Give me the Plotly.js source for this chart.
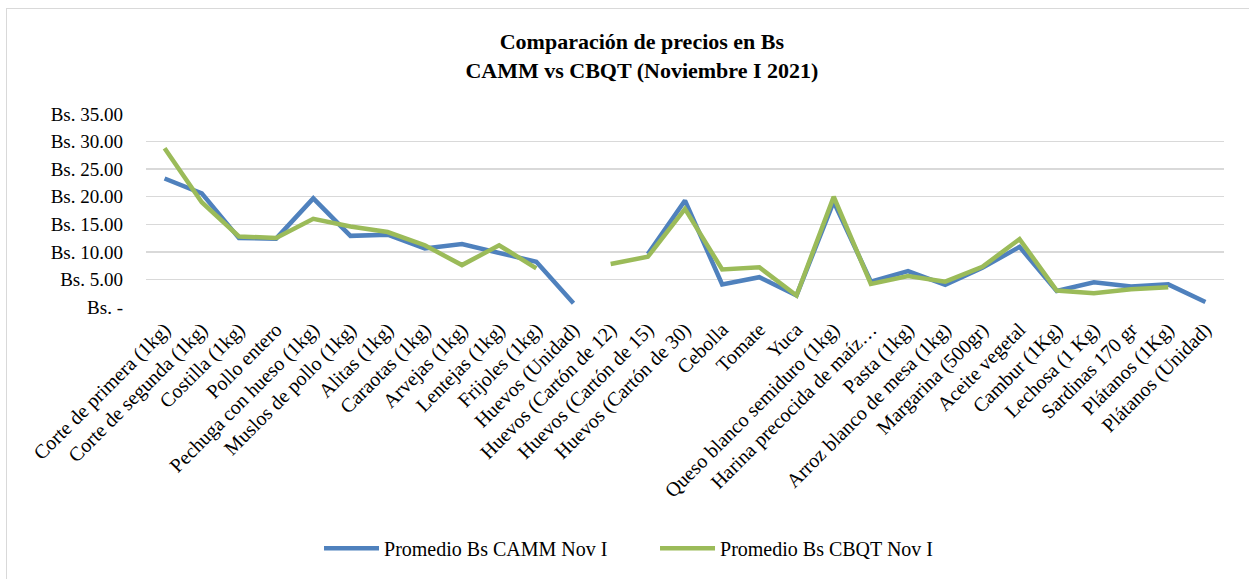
<!DOCTYPE html>
<html>
<head>
<meta charset="utf-8">
<script src="https://cdn.plot.ly/plotly-3.0.1.min.js"></script>
<style>
  html, body { margin: 0; padding: 0; background: #ffffff; overflow: hidden; }
  #frame { position: absolute; left: 6px; top: 8px; width: 1260px; height: 590px; border: 1px solid #d9d9d9; box-sizing: border-box; }
  #chart { position: absolute; left: 0; top: 0; width: 1249px; height: 579px; }
</style>
</head>
<body>
<div id="frame"></div>
<div id="chart"></div>
<script>
const categories = [
  "Corte de primera (1kg)", "Corte de segunda (1kg)", "Costilla (1kg)", "Pollo entero",
  "Pechuga con hueso (1kg)", "Muslos de pollo (1kg)", "Alitas (1kg)", "Caraotas (1kg)",
  "Arvejas (1kg)", "Lentejas (1kg)", "Frijoles (1kg)", "Huevos (Unidad)",
  "Huevos (Cartón de 12)", "Huevos (Cartón de 15)", "Huevos (Cartón de 30)", "Cebolla",
  "Tomate", "Yuca", "Queso blanco semiduro (1kg)", "Harina precocida de maíz…",
  "Pasta (1kg)", "Arroz blanco de mesa (1kg)", "Margarina (500gr)", "Aceite vegetal",
  "Cambur (1Kg)", "Lechosa (1 Kg)", "Sardinas 170 gr", "Plátanos (1Kg)", "Plátanos (Unidad)"
];
const camm = [
  23.3, 20.6, 12.5, 12.4, 19.7, 12.9, 13.1, 10.6, 11.4, 9.9, 8.2, 0.7,
  null, 9.6, 19.3, 4.1, 5.4, 2.1, 19.1, 4.6, 6.5, 4.0, 7.1, 10.9,
  2.9, 4.5, 3.7, 4.1, 0.9
];
const cbqt = [
  28.8, 19.0, 12.8, 12.5, 16.0, 14.6, 13.6, 11.2, 7.6, 11.2, 7.0, null,
  7.8, 9.1, 17.8, 6.8, 7.2, 2.1, 20.0, 4.2, 5.6, 4.6, 7.3, 12.3,
  3.0, 2.5, 3.2, 3.6, null
];
const seriesNames = ["Promedio Bs CAMM Nov I", "Promedio Bs CBQT Nov I"];
const yTickVals = [0, 5, 10, 15, 20, 25, 30, 35];
const yTickText = ["Bs. -", "Bs. 5.00", "Bs. 10.00", "Bs. 15.00", "Bs. 20.00", "Bs. 25.00", "Bs. 30.00", "Bs. 35.00"];
const titleLines = ["Comparación de precios en Bs", "CAMM vs CBQT (Noviembre I 2021)"];

const FONT = "'Liberation Serif', 'Times New Roman', serif";

const traces = [
  { x: categories, y: camm, name: seriesNames[0], type: "scatter", mode: "lines",
    line: { color: "#4f81bd", width: 4.5 }, connectgaps: false, hoverinfo: "skip" },
  { x: categories, y: cbqt, name: seriesNames[1], type: "scatter", mode: "lines",
    line: { color: "#9bbb59", width: 4.5 }, connectgaps: false, hoverinfo: "skip" }
];

const layout = {
  width: 1249, height: 579,
  paper_bgcolor: "rgba(0,0,0,0)", plot_bgcolor: "rgba(0,0,0,0)",
  margin: { l: 146, r: 25, t: 114, b: 270, pad: 0 },
  font: { family: FONT, color: "#000000", size: 19 },
  title: {
    text: "<b>" + titleLines[0] + "</b><br><b>" + titleLines[1] + "</b>",
    font: { family: FONT, size: 22, color: "#000000" },
    x: 0.46, xanchor: "center", xref: "paper",
    y: 0.915, yanchor: "middle", yref: "container"
  },
  xaxis: {
    type: "category", range: [-0.5, 28.5], tickangle: -45,
    showgrid: false, zeroline: false, showline: false, ticks: "",
    ticklabelstandoff: 6,
    tickfont: { family: FONT, size: 20, color: "#000000" }, automargin: false
  },
  yaxis: {
    range: [0, 35], tickvals: yTickVals, ticktext: yTickText,
    showgrid: true, gridcolor: "#d9d9d9", gridwidth: 1.5,
    zeroline: false, showline: false, ticks: "", ticklabelstandoff: 22,
    tickfont: { family: FONT, size: 19, color: "#000000" }, automargin: false
  },
  showlegend: true,
  legend: {
    orientation: "h", x: 0.1605, xanchor: "left", y: -1.25, yanchor: "middle",
    font: { family: FONT, size: 20, color: "#000000" }, itemwidth: 55,
    entrywidth: 266, entrywidthmode: "pixels",
    bgcolor: "rgba(0,0,0,0)", traceorder: "normal"
  }
};

Plotly.newPlot("chart", traces, layout, { staticPlot: true, displayModeBar: false });
</script>
</body>
</html>
